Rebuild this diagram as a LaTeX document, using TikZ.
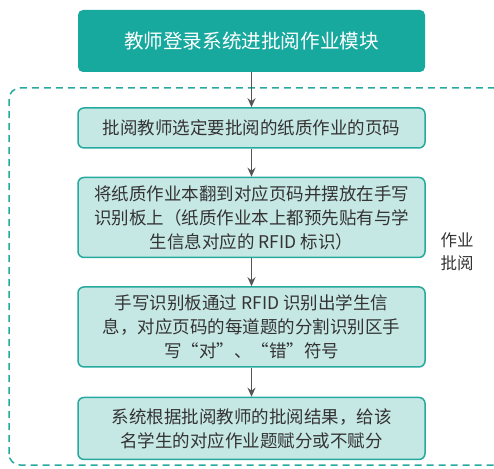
\documentclass[tikz,border=0pt]{standalone}
\usepackage{fontspec}
\setmainfont{Noto Sans CJK SC}
\usepackage{xcolor}
\usetikzlibrary{shapes.geometric, arrows.meta, positioning}
\definecolor{tealdark}{HTML}{17A89E}
\definecolor{teallight}{HTML}{C6E8E5}
\definecolor{tealline}{HTML}{26A99E}
\definecolor{arrowgray}{HTML}{555555}
\definecolor{textgray}{HTML}{333333}

\begin{document}
\begin{tikzpicture}[node distance=28pt]
\tikzstyle{header} = [rectangle, rounded corners=5pt, minimum width=347pt, minimum height=62pt, text centered, fill=tealdark, text=white, font=\fontsize{19.6}{24}\selectfont]
\tikzstyle{stepbox} = [rectangle, rounded corners=6pt, minimum width=347pt, text centered, align=center, draw=tealline, line width=1.5pt, fill=teallight, text=textgray, font=\fontsize{17.5}{24}\selectfont]
\tikzstyle{arrow} = [line width=1.4pt, draw=arrowgray, -{Stealth[length=9pt, width=8pt]}]

\useasboundingbox (0,0) rectangle (494pt,-468pt);

% Dashed frame
\draw [tealline, line width=1.5pt, dash pattern=on 7pt off 5pt, rounded corners=11pt] (9pt,-465pt) rectangle (505pt,-88pt);

% Main steps
\node (login) [header] at (251.5pt,-41pt) {教师登录系统进批阅作业模块};
\node (select) [stepbox, minimum height=40pt, below=35pt of login] {批阅教师选定要批阅的纸质作业的页码};
\node (place) [stepbox, minimum height=80pt, below=of select] {将纸质作业本翻到对应页码并摆放在手写\\识别板上（纸质作业本上都预先贴有与学\\生信息对应的 RFID 标识）};
\node (recog) [stepbox, minimum height=80pt, below=of place] {手写识别板通过 RFID 识别出学生信\\息，对应页码的每道题的分割识别区手\\写“对”、“错”符号};
\node (score) [stepbox, minimum height=62pt, below=29pt of recog] {系统根据批阅教师的批阅结果，给该\\名学生的对应作业题赋分或不赋分};

% Frame label
\node (grading) [align=center, text=textgray, font=\fontsize{16.5}{23}\selectfont] at (457pt,-252pt) {作业\\批阅};

% Arrows
\draw [arrow] (login) -- (select);
\draw [arrow] (select) -- (place);
\draw [arrow] (place) -- (recog);
\draw [arrow] (recog) -- (score);
\end{tikzpicture}
\end{document}
